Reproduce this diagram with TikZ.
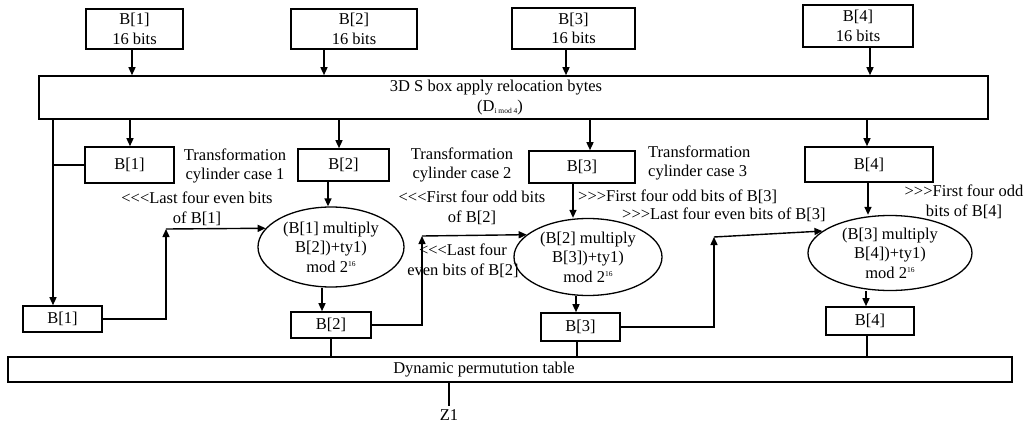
\documentclass[tikz,border=0pt]{standalone}
\usepackage{fontspec}
\setmainfont{Liberation Serif}[Ligatures=TeXOff]
\usetikzlibrary{arrows.meta,shapes.geometric}
\begin{document}
\begin{tikzpicture}[x=1pt,y=-1pt,
  every node/.style={font=\fontsize{16.5}{19.5}\selectfont, inner sep=0pt},
  blk/.style={draw, line width=1.6pt, rectangle, align=center},
  oval/.style={draw, line width=1.3pt, ellipse, align=center},
  txt/.style={align=center},
  wire/.style={line width=1.4pt},
  arr/.style={line width=1.4pt, -{Triangle[length=8pt,width=7pt]}}]
\useasboundingbox (0,0) rectangle (1034,423);

% inputs
\node[blk, minimum width=97pt, minimum height=40pt] (t1) at (134.5,29) {B[1]\\16 bits};
\node[blk, minimum width=126pt, minimum height=40pt] (t2) at (354,29) {B[2]\\16 bits};
\node[blk, minimum width=123pt, minimum height=41pt] (t3) at (573.5,28.5) {B[3]\\16 bits};
\node[blk, minimum width=110pt, minimum height=42pt] (t4) at (858,26) {B[4]\\16 bits};

% S box stage
\node[blk, minimum width=949pt, minimum height=43pt] (sbox) at (513.5,97.5) {};
\node[txt] (sboxt) at (496,88) {3D S box apply relocation bytes};
\node[txt] (sboxd) at (500,107.5) {(D\raisebox{-2.5pt}{\fontsize{7.5}{7.5}\selectfont i mod 4})};

% per-block copies
\node[blk, minimum width=89pt, minimum height=36pt] (m1) at (129.5,165) {B[1]};
\node[blk, minimum width=91pt, minimum height=32pt] (m2) at (343.5,165) {B[2]};
\node[blk, minimum width=106pt, minimum height=32pt] (m3) at (582,167) {B[3]};
\node[blk, minimum width=128pt, minimum height=35pt] (m4) at (869,164.5) {B[4]};

% modular products
\newcommand{\modsix}{mod 2\raisebox{6pt}{\fontsize{7.5}{7.5}\selectfont 16}}
\node[oval, minimum width=146pt, minimum height=80pt] (e1) at (331,247) {(B[1] multiply\\B[2])+ty1)\\\modsix};
\node[oval, minimum width=148pt, minimum height=77pt] (e2) at (588,257) {(B[2] multiply\\B[3])+ty1)\\\modsix};
\node[oval, minimum width=164pt, minimum height=75pt] (e3) at (890,253) {(B[3] multiply\\B[4])+ty1)\\\modsix};

% outputs
\node[blk, minimum width=79pt, minimum height=26pt] (l1) at (62.5,319) {B[1]};
\node[blk, minimum width=80pt, minimum height=26pt] (l2) at (331,325) {B[2]};
\node[blk, minimum width=79pt, minimum height=28pt] (l3) at (580.5,327) {B[3]};
\node[blk, minimum width=88pt, minimum height=28pt] (l4) at (870,321) {B[4]};

\node[blk, minimum width=1004pt, minimum height=25pt] (perm) at (510,369.5) {};
\node[txt] (permt) at (484,370) {Dynamic permutution table};
\node[txt] (z1) at (449,415) {Z1};

% labels
\node[txt] (c1) at (235,166) {Transformation\\cylinder case 1};
\node[txt] (c2) at (462,165) {Transformation\\cylinder case 2};
\node[txt, align=left, anchor=west] (c3) at (648,163) {Transformation\\cylinder case 3};
\node[txt] (r1) at (197,209) {<<<Last four even bits\\of B[1]};
\node[txt] (r2) at (472,208) {<<<First four odd bits\\of B[2]};
\node[txt] (r3) at (463,261) {<<<Last four\\even bits of B[2]};
\node[txt, anchor=west] (s1) at (578,197) {>>>First four odd bits of B[3]};
\node[txt, anchor=west] (s2) at (622,215) {>>>Last four even bits of B[3]};
\node[txt] (s4) at (964,202) {>>>First four odd\\bits of B[4]};

% inputs into S box
\draw[arr] (t1.south -| 132,0) -- (sbox.north -| 132,0);
\draw[arr] (t2.south -| 324,0) -- (sbox.north -| 324,0);
\draw[arr] (t3.south -| 566,0) -- (sbox.north -| 566,0);
\draw[arr] (t4.south -| 870,0) -- (sbox.north -| 870,0);

% S box to copies
\draw[arr] (sbox.south -| 53,0) -- (l1.north -| 53,0);
\draw[wire] (m1.west -| 53,0) -- (m1.west);
\draw[arr] (sbox.south -| 130,0) -- (m1.north -| 130,0);
\draw[arr] (sbox.south -| 339,0) -- (m2.north -| 339,0);
\draw[arr] (sbox.south -| 590,0) -- (m3.north -| 590,0);
\draw[arr] (sbox.south -| 867,0) -- (m4.north -| 867,0);

% copies into products
\draw[arr] (m2.south -| 328,0) -- (e1.north -| 328,0);
\draw[arr] (m3.south -| 573,0) -- (e2.north -| 573,0);
\draw[arr] (m4.south -| 868,0) -- (e3.north -| 868,0);

% products to outputs
\draw[arr] (e1.south -| 322,0) -- (l2.north -| 322,0);
\draw[arr] (e2.south -| 576,0) -- (l3.north -| 576,0);
\draw[arr] (e3.south -| 866,0) -- (l4.north -| 866,0);

% feedback of previous output
\coordinate (k1) at (166,229);
\coordinate (k2) at (422,236);
\coordinate (k3) at (714,237);
\draw[arr] (l1.east) -- (l1.east -| k1) -- (k1);
\draw[arr] (k1) -- (e1.164);
\draw[arr] (l2.east) -- (l2.east -| k2) -- (k2);
\draw[arr] (k2) -- (e2.160);
\draw[arr] (l3.east) -- (l3.east -| k3) -- (k3);
\draw[arr] (k3) -- (e3.162);

% outputs into permutation table
\draw[wire] (l2.south) -- (perm.north -| l2.south);
\draw[wire] (l3.south -| 577,0) -- (perm.north -| 577,0);
\draw[wire] (l4.south -| 867,0) -- (perm.north -| 867,0);
\draw[wire] (perm.south -| z1) -- ([yshift=3pt]z1.north);
\end{tikzpicture}
\end{document}
